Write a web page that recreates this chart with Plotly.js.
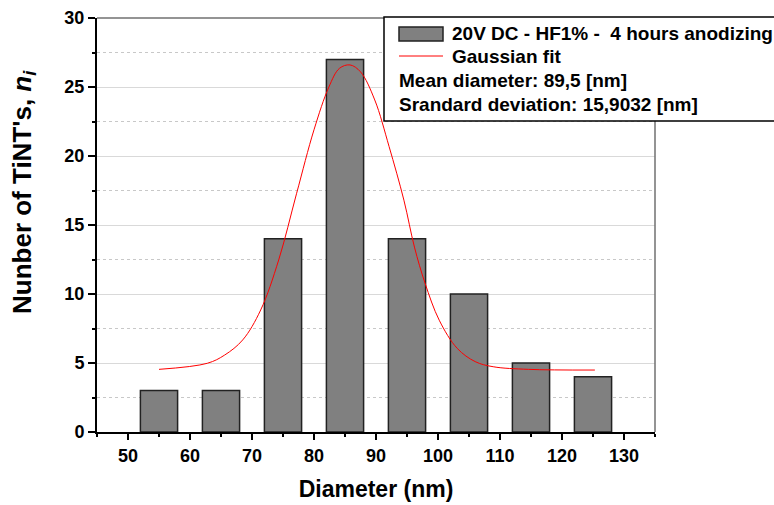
<!DOCTYPE html>
<html>
<head>
<meta charset="utf-8">
<script src="https://cdn.plot.ly/plotly-3.0.1.min.js"></script>
<style>html,body{margin:0;padding:0;background:#fff;}#chart{width:774px;height:505px;}</style>
</head>
<body>
<div id="chart"></div>
<script>
// Histogram data
const diameters = [55, 65, 75, 85, 95, 105, 115, 125];
const counts = [3, 3, 14, 27, 14, 10, 5, 4];

// Gaussian fit curve
const fitX = [55.0, 62.8, 65.6, 68.5, 71.4, 74.3, 77.2, 80.0, 82.4, 84.1, 85.8, 87.5, 89.8, 92.1, 94.5, 96.2, 97.9, 100.2, 103.1, 106.0, 108.9, 114.6, 125.3];
const fitY = [4.54, 4.98, 5.58, 6.67, 8.84, 12.46, 17.3, 21.9, 25.0, 26.35, 26.6, 26.1, 24.06, 20.7, 16.8, 13.4, 10.8, 8.1, 6.06, 5.1, 4.73, 4.54, 4.49];

const xTicks = [50, 60, 70, 80, 90, 100, 110, 120, 130];
const yTicks = [0, 5, 10, 15, 20, 25, 30];

const xTitle = "Diameter (nm)";
const yTitle = "Nunber of TiNT's, <i>n<sub>i</sub></i>";

const legendLines = [
  "20V DC - HF1% -  4 hours anodizing",
  "Gaussian fit",
  "Mean diameter: 89,5 [nm]",
  "Srandard deviation: 15,9032 [nm]"
];

const FONT = "Liberation Sans, Arial, sans-serif";

const traces = [
  {
    type: "bar",
    x: diameters,
    y: counts,
    width: 6,
    marker: {color: "#808080", line: {color: "#222222", width: 1.5}},
    showlegend: false,
    hoverinfo: "skip"
  },
  {
    type: "scatter",
    mode: "lines",
    x: fitX,
    y: fitY,
    line: {color: "#ff0000", width: 1, shape: "spline"},
    showlegend: false,
    hoverinfo: "skip"
  }
];

// pixel helpers for legend box (paper coords)
const L = 97, R = 655, T = 18, B = 432;
const px = v => (v - L) / (R - L);
const py = v => (B - v) / (B - T);

const layout = {
  width: 774,
  height: 505,
  margin: {l: L, r: 774 - R, t: T, b: 505 - B},
  paper_bgcolor: "#ffffff",
  plot_bgcolor: "#ffffff",
  font: {family: FONT, color: "#000000"},
  bargap: 0,
  xaxis: {
    range: [45, 135],
    tickvals: xTicks,
    ticktext: xTicks.map(String),
    ticks: "outside",
    ticklen: 6,
    tickwidth: 2,
    tickcolor: "#000",
    showline: true,
    linecolor: "#000",
    linewidth: 2,
    showgrid: false,
    zeroline: false,
    tickfont: {family: FONT, size: 18, color: "#000", weight: "bold"},
    minor: {dtick: 5, tick0: 45, ticks: "outside", ticklen: 3, tickwidth: 2, tickcolor: "#000", showgrid: false},
    title: {text: "<b>" + xTitle + "</b>", font: {family: FONT, size: 23, color: "#000"}, standoff: 16}
  },
  yaxis: {
    range: [0, 30],
    tickvals: yTicks,
    ticktext: yTicks.map(String),
    ticks: "outside",
    ticklen: 7,
    tickwidth: 2,
    tickcolor: "#000",
    showline: true,
    linecolor: "#000",
    linewidth: 2,
    showgrid: true,
    gridcolor: "#d9d9d9",
    gridwidth: 1,
    zeroline: false,
    tickfont: {family: FONT, size: 18, color: "#000", weight: "bold"},
    minor: {dtick: 2.5, tick0: 0, ticks: "outside", ticklen: 3, tickwidth: 2, tickcolor: "#000", showgrid: true, gridcolor: "#c8c8c8", griddash: "dot", gridwidth: 1}
  },
  shapes: [
    // top and right frame
    {type: "line", xref: "paper", yref: "paper", x0: 0, x1: 1, y0: 1, y1: 1, line: {color: "#707070", width: 1.5}, layer: "above"},
    {type: "line", xref: "paper", yref: "paper", x0: 1, x1: 1, y0: 0, y1: 1, line: {color: "#707070", width: 1.5}, layer: "above"},
    // legend box
    {type: "rect", xref: "paper", yref: "paper", x0: px(384), x1: px(790), y0: py(121), y1: py(17), fillcolor: "#ffffff", line: {color: "#000", width: 1.5}, layer: "above"},
    // legend bar symbol
    {type: "rect", xref: "paper", yref: "paper", x0: px(399), x1: px(443), y0: py(41), y1: py(27), fillcolor: "#808080", line: {color: "#222", width: 1.5}, layer: "above"},
    // legend line symbol
    {type: "line", xref: "paper", yref: "paper", x0: px(399), x1: px(443), y0: py(56), y1: py(56), line: {color: "#ff0000", width: 1}, layer: "above"}
  ],
  annotations: [
    {xref: "paper", yref: "paper", x: px(23), y: py(192), xanchor: "center", yanchor: "middle", textangle: -90, showarrow: false, text: "<b>" + yTitle + "</b>", font: {family: FONT, size: 26, color: "#000"}},
    {xref: "paper", yref: "paper", x: px(450), y: py(34), xanchor: "left", yanchor: "middle", showarrow: false, text: "<b>" + legendLines[0] + "</b>", font: {family: FONT, size: 19, color: "#000"}},
    {xref: "paper", yref: "paper", x: px(450), y: py(57), xanchor: "left", yanchor: "middle", showarrow: false, text: "<b>" + legendLines[1] + "</b>", font: {family: FONT, size: 19, color: "#000"}},
    {xref: "paper", yref: "paper", x: px(397), y: py(80), xanchor: "left", yanchor: "middle", showarrow: false, text: "<b>" + legendLines[2] + "</b>", font: {family: FONT, size: 19, color: "#000"}},
    {xref: "paper", yref: "paper", x: px(397), y: py(104), xanchor: "left", yanchor: "middle", showarrow: false, text: "<b>" + legendLines[3] + "</b>", font: {family: FONT, size: 19, color: "#000"}}
  ]
};

Plotly.newPlot("chart", traces, layout, {displayModeBar: false, staticPlot: true});
</script>
</body>
</html>
